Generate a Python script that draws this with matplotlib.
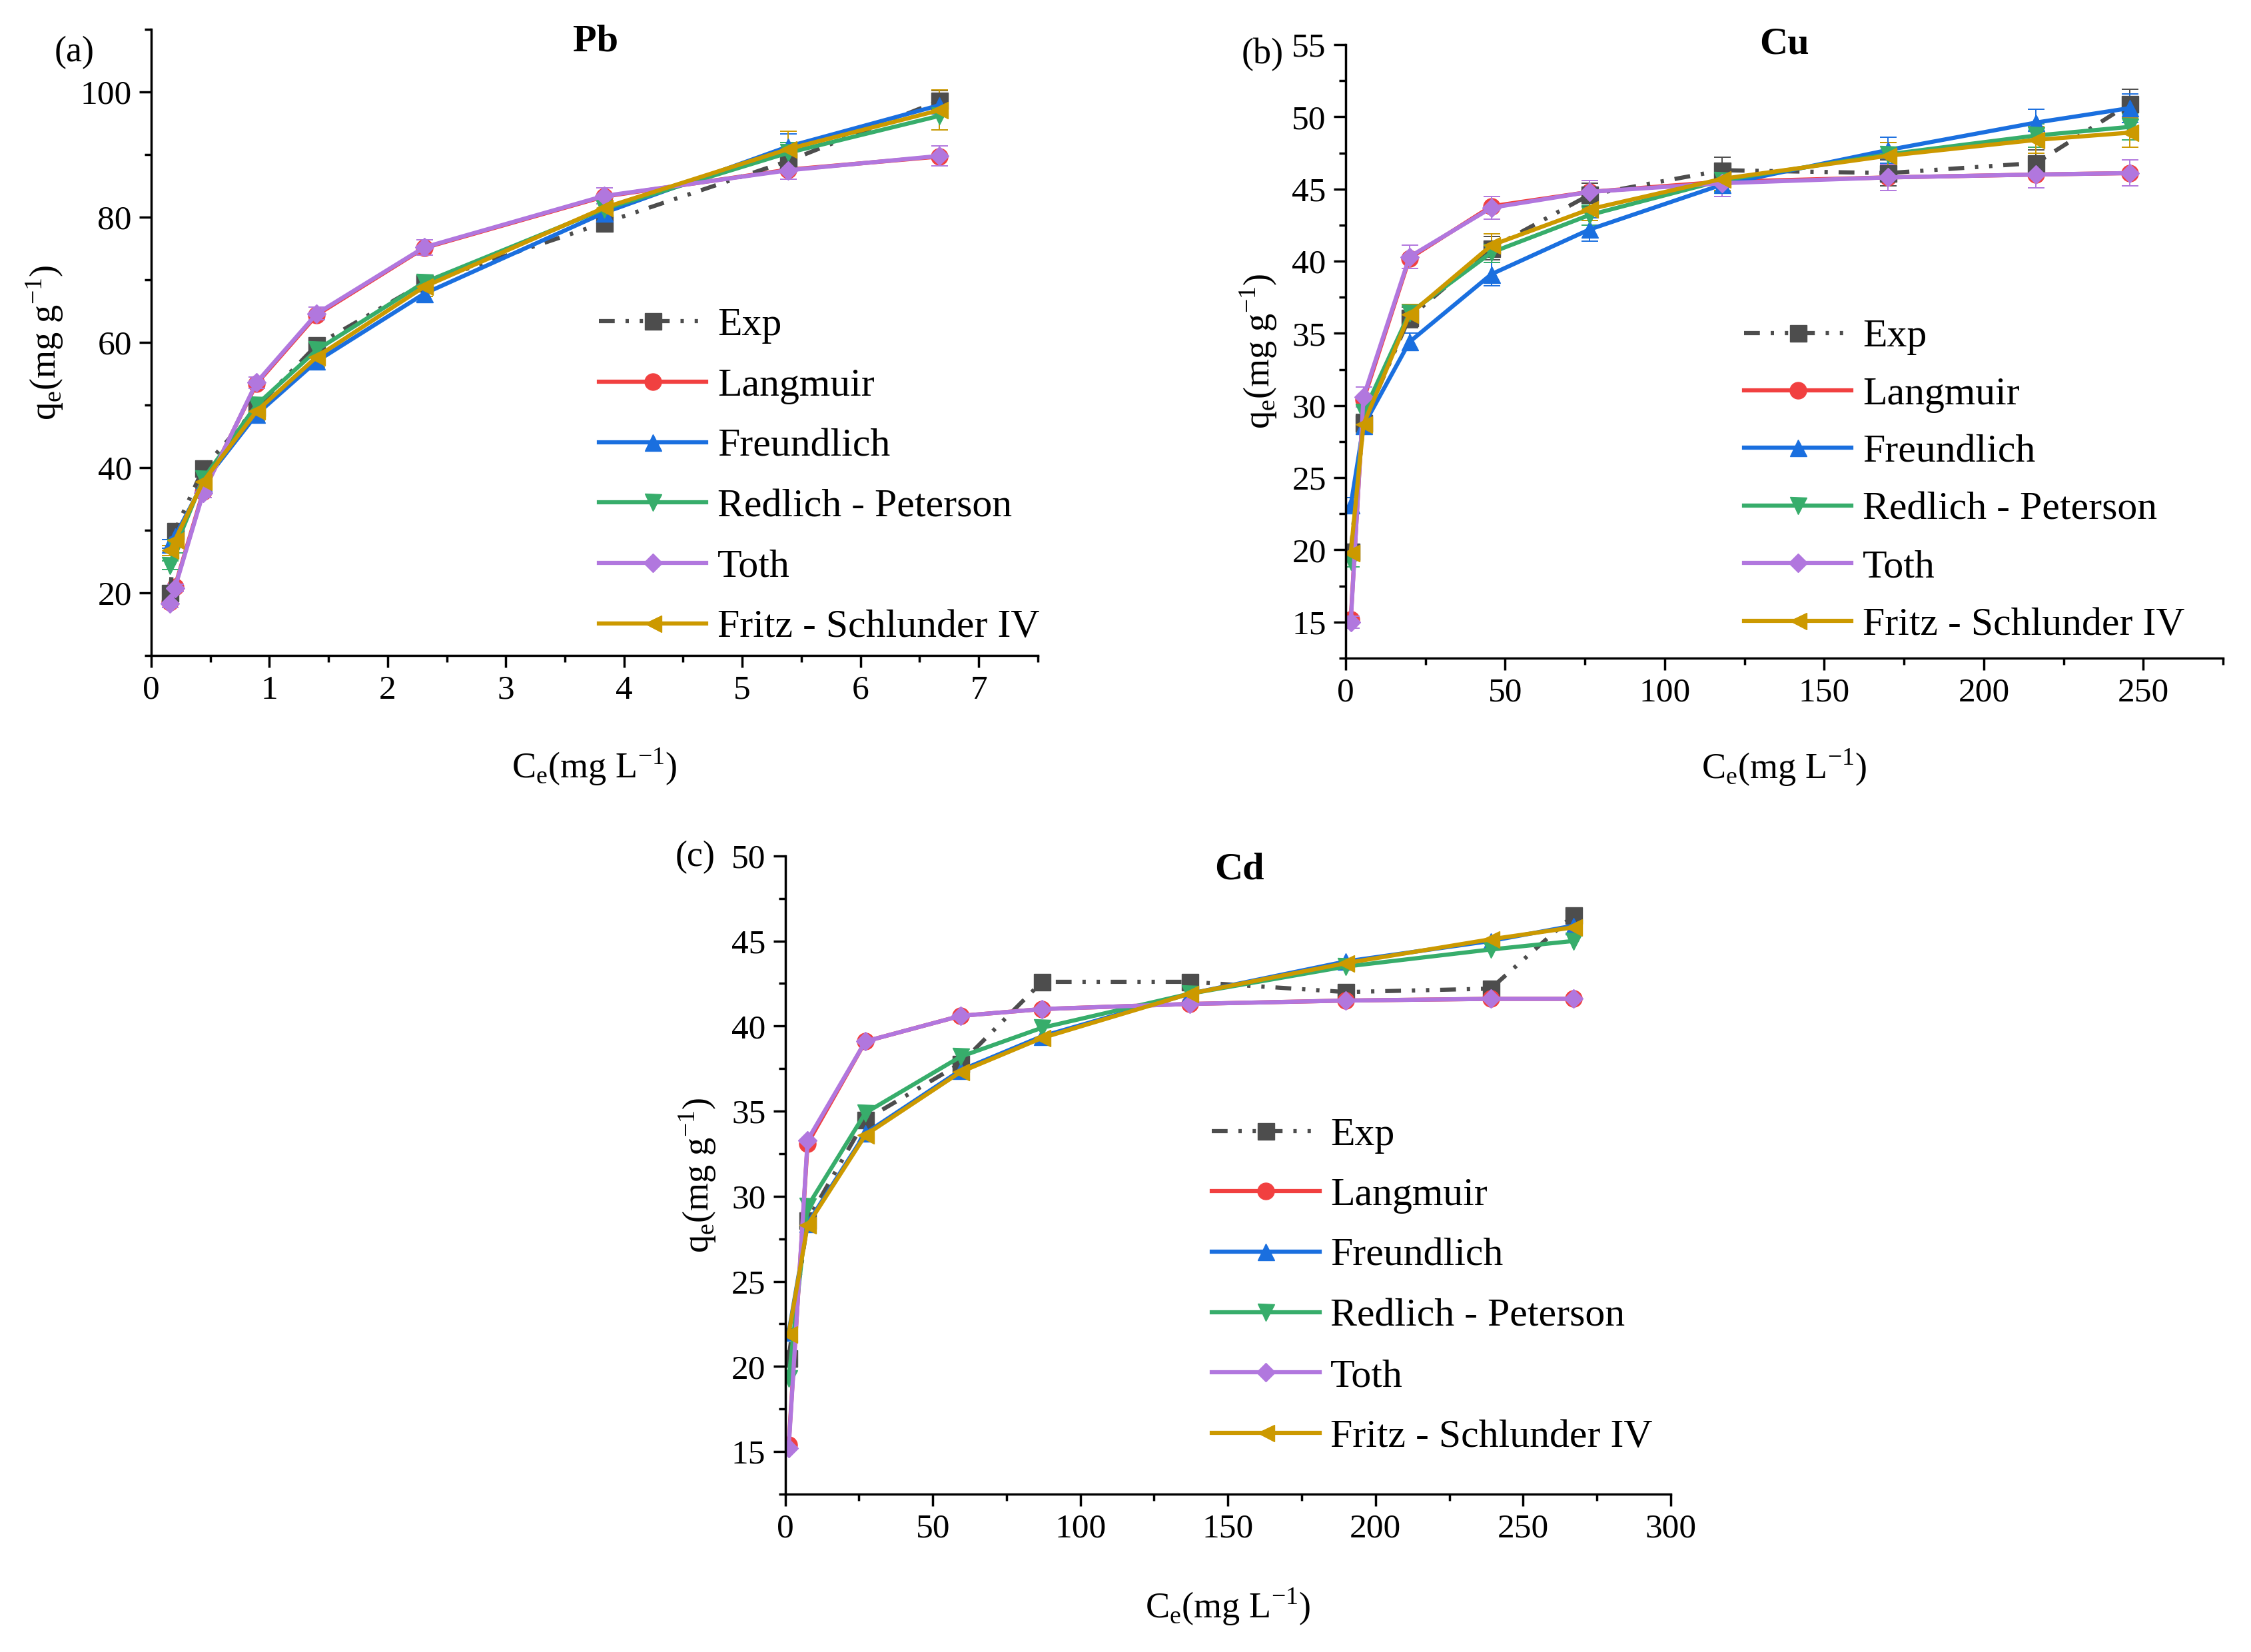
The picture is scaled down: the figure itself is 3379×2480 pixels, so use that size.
import matplotlib
matplotlib.use('Agg')
import matplotlib.pyplot as plt
from matplotlib.ticker import MultipleLocator

plt.rcParams['font.family'] = ['Liberation Serif', 'DejaVu Serif']
plt.rcParams['mathtext.fontset'] = 'custom'
plt.rcParams['mathtext.rm'] = 'Liberation Serif'

# ---- data ----
series_names = ['Exp', 'Langmuir', 'Freundlich', 'Redlich - Peterson', 'Toth', 'Fritz - Schlunder IV']
series_colors = ['#4d4d4d', '#f14040', '#1a6fdf', '#37ad6b', '#b177de', '#cc9900']
series_markers = ['s', 'o', '^', 'v', 'D', '<']

# Pb
pb_ce = [0.16, 0.20, 0.44, 0.89, 1.40, 2.31, 3.83, 5.39, 6.67]
pb_exp = [20.0, 29.9, 39.9, 49.6, 59.6, 69.5, 79.1, 89.0, 98.6]
pb_lang = [18.5, 21.0, 36.2, 53.4, 64.4, 75.1, 83.3, 87.6, 89.7]
pb_freund = [27.8, 29.0, 37.6, 48.5, 57.0, 67.8, 80.7, 91.3, 97.9]
pb_redlich = [24.4, 27.2, 38.2, 50.0, 58.8, 69.6, 81.3, 90.3, 96.2]
pb_toth = [18.3, 20.8, 36.0, 53.6, 64.6, 75.2, 83.4, 87.5, 89.8]
pb_fritz = [26.8, 28.4, 37.8, 49.0, 57.7, 68.9, 81.5, 90.9, 97.1]
pb_err_exp = [0.6, 0.8, 0.9, 1.0, 1.1, 1.2, 1.3, 1.5, 1.6]
pb_err_freund = [0.7, 0.8, 0.9, 1.0, 1.2, 1.3, 1.4, 2.0, 1.8]
pb_err_redlich = [0.7, 0.8, 0.9, 1.0, 1.1, 1.2, 1.4, 1.6, 2.2]
pb_err_toth = [0.6, 0.6, 0.8, 0.9, 1.0, 1.2, 1.3, 1.4, 1.6]
pb_err_fritz = [0.8, 0.8, 1.0, 1.5, 1.6, 1.5, 1.5, 2.8, 3.2]

# Cu
cu_ce = [1.6, 5.6, 20.0, 45.7, 76.5, 118.0, 170.0, 216.4, 245.7]
cu_exp = [19.9, 28.8, 36.1, 40.9, 44.6, 46.3, 46.1, 46.8, 50.9]
cu_lang = [15.2, 30.4, 40.2, 43.8, 44.8, 45.5, 45.8, 46.0, 46.1]
cu_freund = [23.1, 28.6, 34.4, 39.1, 42.2, 45.3, 47.7, 49.6, 50.6]
cu_redlich = [19.2, 29.5, 36.4, 40.6, 43.2, 45.6, 47.4, 48.7, 49.3]
cu_toth = [15.0, 30.6, 40.3, 43.7, 44.8, 45.4, 45.8, 46.0, 46.1]
cu_fritz = [19.8, 28.7, 36.3, 41.1, 43.6, 45.7, 47.3, 48.4, 48.9]
cu_err_exp = [0.5, 0.6, 0.7, 0.8, 0.8, 0.9, 0.9, 0.9, 1.0]
cu_err_freund = [0.5, 0.6, 0.6, 0.8, 0.8, 0.8, 0.9, 0.9, 1.0]
cu_err_redlich = [0.4, 0.6, 0.6, 0.7, 0.7, 0.8, 0.8, 0.8, 0.9]
cu_err_toth = [0.4, 0.7, 0.8, 0.8, 0.8, 0.9, 0.9, 0.9, 0.9]
cu_err_fritz = [0.5, 0.6, 0.7, 0.8, 0.8, 0.8, 0.9, 0.9, 1.0]

# Cd
cd_ce = [1.2, 7.6, 27.2, 59.4, 87.0, 137.0, 190.0, 239.0, 267.0]
cd_exp = [20.5, 28.6, 34.5, 37.8, 42.6, 42.6, 42.0, 42.2, 46.5]
cd_lang = [15.4, 33.1, 39.1, 40.6, 41.0, 41.3, 41.5, 41.6, 41.6]
cd_freund = [22.0, 28.4, 33.7, 37.4, 39.4, 41.9, 43.8, 45.0, 45.9]
cd_redlich = [19.3, 29.4, 34.9, 38.2, 39.9, 41.9, 43.5, 44.5, 45.0]
cd_toth = [15.2, 33.3, 39.1, 40.6, 41.0, 41.3, 41.5, 41.6, 41.6]
cd_fritz = [21.9, 28.3, 33.6, 37.3, 39.3, 41.9, 43.7, 45.1, 45.8]

fig = plt.figure(figsize=(33.79, 24.80), dpi=100)

ax_a = fig.add_axes([0.0672, 0.6032, 0.3938, 0.3790])
ax_b = fig.add_axes([0.5978, 0.6016, 0.3898, 0.3714])
ax_c = fig.add_axes([0.3488, 0.0956, 0.3934, 0.3863])

EXP_DASH = (3.8, 2.6, 0.8, 2.6, 0.8, 2.6)


def draw_panel(ax, x, ys, errs, title, title_xy, xlim, ylim, xmaj, xmin, ymaj, ymin,
               leg_xy, leg_space, ylab_x):
    handles = []
    for i, y in enumerate(ys):
        kw = dict(color=series_colors[i], marker=series_markers[i], lw=4.5,
                  ms=18 if series_markers[i] != 'D' else 14)
        if i == 0:
            kw['dashes'] = EXP_DASH
        if errs is not None and errs[i] is not None:
            cont = ax.errorbar(x, y, yerr=errs[i], capsize=9, elinewidth=1.4, capthick=1.4, **kw)
            handles.append(cont[0])
        else:
            line, = ax.plot(x, y, **kw)
            handles.append(line)

    ax.set_xlim(*xlim)
    ax.set_ylim(*ylim)
    ax.xaxis.set_major_locator(MultipleLocator(xmaj))
    ax.xaxis.set_minor_locator(MultipleLocator(xmin))
    ax.yaxis.set_major_locator(MultipleLocator(ymaj))
    ax.yaxis.set_minor_locator(MultipleLocator(ymin))
    for side in ['top', 'right']:
        ax.spines[side].set_visible(False)
    for side in ['left', 'bottom']:
        ax.spines[side].set_linewidth(2.5)
    ax.tick_params(which='major', direction='out', length=13, width=2.5, labelsize=37, pad=8)
    ax.tick_params(which='minor', direction='out', length=7.5, width=2.5)

    ax.text(title_xy[0], title_xy[1], title, transform=ax.transAxes, ha='center',
            va='center', fontsize=42, fontweight='bold')

    ax.set_xlabel(r'C$_\mathregular{e}$(mg L$^\mathregular{-1}$)', fontsize=39)
    ax.xaxis.set_label_coords(0.5, -0.145)
    ax.set_ylabel(r'q$_\mathregular{e}$(mg g$^\mathregular{-1}$)', fontsize=39)
    ax.yaxis.set_label_coords(ylab_x, 0.5)

    ax.legend(handles, series_names, loc='upper left', bbox_to_anchor=leg_xy, frameon=False,
              fontsize=43, handlelength=2.7, handletextpad=0.28, labelspacing=leg_space,
              borderpad=0, borderaxespad=0)


draw_panel(ax_a, pb_ce, [pb_exp, pb_lang, pb_freund, pb_redlich, pb_toth, pb_fritz],
           [pb_err_exp, None, pb_err_freund, pb_err_redlich, pb_err_toth, pb_err_fritz],
           'Pb', (0.5016, 0.98), (0, 7.5), (10, 110), 1, 0.5, 20, 10,
           (0.505, 0.556), 0.60, -0.097)
draw_panel(ax_b, cu_ce, [cu_exp, cu_lang, cu_freund, cu_redlich, cu_toth, cu_fritz],
           [cu_err_exp, None, cu_err_freund, cu_err_redlich, cu_err_toth, cu_err_fritz],
           'Cu', (0.4996, 1.0), (0, 275), (12.5, 55), 50, 25, 5, 2.5,
           (0.454, 0.553), 0.53, -0.076)
draw_panel(ax_c, cd_ce, [cd_exp, cd_lang, cd_freund, cd_redlich, cd_toth, cd_fritz],
           None, 'Cd', (0.513, 0.978), (0, 300), (12.5, 50), 50, 25, 5, 2.5,
           (0.482, 0.591), 0.60, -0.076)

fig.text(0.033, 0.968, '(a)', fontsize=39, ha='center', va='center')
fig.text(0.561, 0.967, '(b)', fontsize=39, ha='center', va='center')
fig.text(0.309, 0.481, '(c)', fontsize=39, ha='center', va='center')

fig.savefig('out.png', dpi=100)
